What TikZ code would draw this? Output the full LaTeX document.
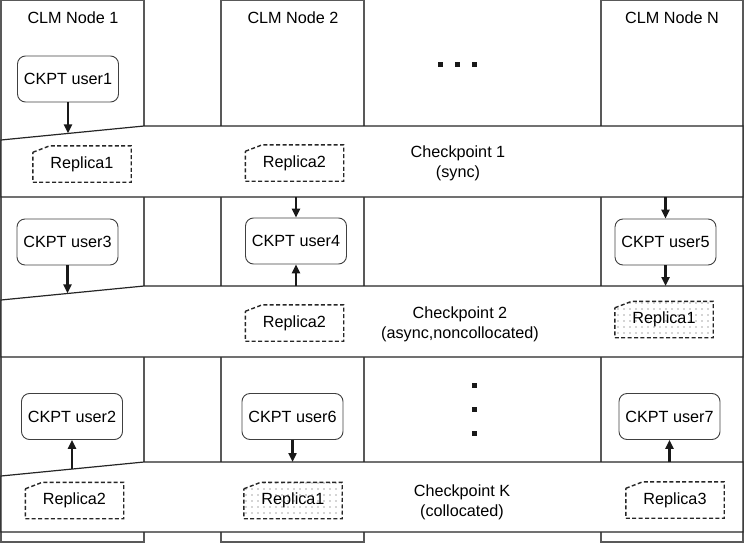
\documentclass[tikz,border=0pt]{standalone}
\usepackage{fontspec}
\setmainfont{Liberation Sans}
\usetikzlibrary{arrows.meta,patterns.meta}
\pgfdeclarelayer{bg}
\pgfdeclarelayer{mid}
\pgfsetlayers{bg,mid,main}
\tikzset{
  col/.style={draw=black!65, line width=1.1pt},
  band/.style={draw=black!85, line width=1.2pt, fill=white},
  user/.style={draw=black!75, line width=0.9pt, rounded corners=8pt, minimum width=101pt, minimum height=46pt, inner sep=0pt},
  rep/.style={minimum width=98pt, minimum height=36pt, inner sep=0pt},
  repline/.style={draw=black!85, line width=1.4pt, dash pattern=on 4pt off 2.4pt},
  dotfill/.style={pattern={Dots[distance=6pt,radius=0.65pt]}, pattern color=black!70},
  arr/.style={line width=2.4pt, draw=black!90, -{Triangle[length=9pt,width=8pt]}},
  lbl/.style={inner sep=0pt, align=center},
  sq/.style={fill=black!90, minimum size=5pt, inner sep=0pt, rectangle},
}
\newcommand\repframe[2]{%
  \begin{pgfonlayer}{mid}
    \path[repline,#2] ([yshift=-6.5pt]#1.north west) -- ([xshift=17pt]#1.north west) -- (#1.north east) -- (#1.south east) -- (#1.south west) -- cycle;
  \end{pgfonlayer}}
\begin{document}
\begin{tikzpicture}[x=1pt, y=-1pt, font=\fontsize{16.2}{20}\selectfont]
\useasboundingbox (0,0) rectangle (744,543);
% columns and bands
\begin{pgfonlayer}{bg}
  \draw[col] (1,0.5) rectangle (144,542);
  \draw[col] (221,0.5) rectangle (364,542);
  \draw[col] (601,0.5) rectangle (743,542);
  \draw[band] (1,140) -- (144,126) -- (743,126) -- (743,197) -- (1,197) -- cycle;
  \draw[band] (1,300) -- (144,286) -- (743,286) -- (743,357) -- (1,357) -- cycle;
  \draw[band] (1,476) -- (144,462) -- (743,462) -- (743,532) -- (1,532) -- cycle;
\end{pgfonlayer}
\coordinate (b1b) at (0,197);
\coordinate (b2t) at (0,286);
\coordinate (b3t) at (0,462);
\coordinate (s1) at (68,133.4);
\coordinate (s2) at (67.5,293.4);
\coordinate (s3) at (72,469);
% column titles
\node[lbl] (n1) at (73,18) {CLM Node 1};
\node[lbl] (n2) at (293,18) {CLM Node 2};
\node[lbl] (nN) at (672,18) {CLM Node N};
% ellipsis
\node[sq] (d1) at (440,65) {};
\node[sq] (d2) at (457,65) {};
\node[sq] (d3) at (474,65) {};
\node[sq] (d4) at (474,385) {};
\node[sq] (d5) at (474,409) {};
\node[sq] (d6) at (474,433) {};
% user boxes
\node[user] (u1) at (68,79) {CKPT user1};
\node[user] (u3) at (67.5,242) {CKPT user3};
\node[user] (u4) at (296,241) {CKPT user4};
\node[user] (u5) at (665.5,242) {CKPT user5};
\node[user] (u2) at (72,416.5) {CKPT user2};
\node[user] (u6) at (292.5,416.5) {CKPT user6};
\node[user] (u7) at (669.5,416.5) {CKPT user7};
% replicas
\node[rep] (r11) at (82,164) {Replica1};
\node[rep] (r12) at (294.5,163) {Replica2};
\node[rep] (r22) at (294.5,323) {Replica2};
\node[rep] (r21) at (664,319.5) {Replica1};
\node[rep] (r32) at (74.5,500.5) {Replica2};
\node[rep] (r31) at (293,500.5) {Replica1};
\node[rep] (r33) at (675,500) {Replica3};
\repframe{r11}{}
\repframe{r12}{}
\repframe{r22}{}
\repframe{r21}{dotfill}
\repframe{r32}{}
\repframe{r31}{dotfill}
\repframe{r33}{}
% checkpoint labels
\node[lbl] (cp1) at (458,163) {Checkpoint 1\\(sync)};
\node[lbl] (cp2) at (460,324) {Checkpoint 2\\(async,noncollocated)};
\node[lbl] (cpK) at (462,502) {Checkpoint K\\(collocated)};
% arrows
\draw[arr] (u1.south) -- (s1);
\draw[arr] (u4.north |- b1b) -- (u4.north);
\draw[arr] (u4.south |- b2t) -- (u4.south);
\draw[arr] (u3.south) -- (s2);
\draw[arr] (u5.north |- b1b) -- (u5.north);
\draw[arr] (u5.south) -- (u5.south |- b2t);
\draw[arr] (s3) -- (u2.south);
\draw[arr] (u6.south) -- (u6.south |- b3t);
\draw[arr] (u7.south |- b3t) -- (u7.south);
\end{tikzpicture}
\end{document}
